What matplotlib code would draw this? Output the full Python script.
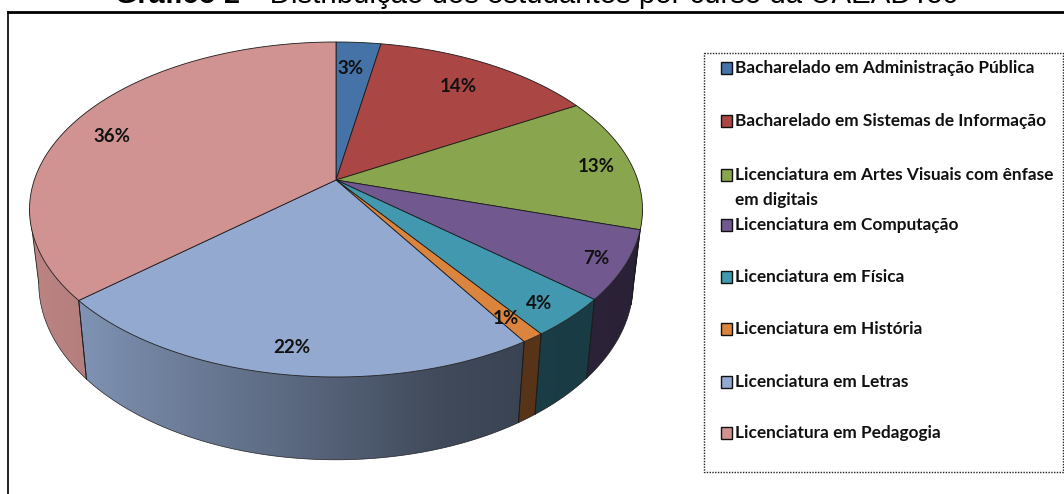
import numpy as np
import matplotlib
matplotlib.use('Agg')
import matplotlib.pyplot as plt
from matplotlib.colors import to_rgb
from matplotlib.patches import Polygon

cursos = ['Bacharelado em Administração Pública',
          'Bacharelado em Sistemas de Informação',
          'Licenciatura em Artes Visuais com ênfase\nem digitais',
          'Licenciatura em Computação',
          'Licenciatura em Física',
          'Licenciatura em História',
          'Licenciatura em Letras',
          'Licenciatura em Pedagogia']
valores = [2.8, 13.9, 13.0, 6.6, 3.8, 1.0, 22.5, 36.4]
rotulos = ['3%', '14%', '13%', '7%', '4%', '1%', '22%', '36%']
cores = ['#4572a7', '#aa4643', '#89a54e', '#71588f', '#4198af', '#db843d', '#93a9cf', '#d19392']

# posicoes em pixels da imagem
rotulo_x = [351, 458, 596, 596, 539, 506, 292, 112]
rotulo_y = [68, 87, 166, 258, 303, 318, 347, 136]
legenda_y = [68, 121, 175, 225, 277, 329, 382, 433]

CX, CY = 336, 180
A, B, K = 301.7, 162.3, 0.176


def topo(t):
    # circulo em perspectiva
    w = 1 + K * np.cos(t)
    return CX + A * np.sin(t) / w, CY - B * np.cos(t) / w


def base(x, y):
    return CX + 0.97 * (x - CX), y + 72 + 0.055 * (y - CY)


def sombra(x):
    return np.interp(x, [30, 90, 130, 290, 440, 520, 650],
                     [0.90, 0.86, 0.80, 0.62, 0.44, 0.40, 0.38])


fig = plt.figure(figsize=(10.64, 4.94), dpi=100)
ax = fig.add_axes([0, 0, 1, 1])
ax.axis('off')

# moldura
ax.plot([8, 8], [12, 494], color='#111111', lw=1.3, zorder=1)
ax.plot([8, 1064], [12.5, 12.5], color='black', lw=2, zorder=1)

# titulo cortado no topo
ax.text(115, 3, 'Gráfico 2', family='Liberation Sans', weight='bold', fontsize=20.8,
        va='baseline', ha='left', clip_on=False)
ax.text(252, 3, '- Distribuição dos estudantes por curso da UAEADTec',
        family='Liberation Sans', fontsize=21.2, va='baseline', ha='left', clip_on=False)

limites = 2 * np.pi * np.cumsum([0] + valores) / sum(valores)
t_dir = np.arccos(-K)
t_esq = 2 * np.pi - t_dir

# lateral com degrade horizontal
for i, cor in enumerate(cores):
    ini, fim = max(limites[i], t_dir), min(limites[i + 1], t_esq)
    if ini >= fim:
        continue
    ts = np.linspace(ini, fim, 200)
    xs, ys = topo(ts)
    xs2, ys2 = base(xs, ys)
    contorno = np.c_[np.r_[xs, xs2[::-1]], np.r_[ys, ys2[::-1]]]
    x0, x1 = np.floor(contorno[:, 0].min()) - 1, np.ceil(contorno[:, 0].max()) + 1
    y0, y1 = contorno[:, 1].min() - 1, contorno[:, 1].max() + 1
    colunas = np.arange(x0, x1) + 0.5
    img = np.clip(np.outer(sombra(colunas), to_rgb(cor)), 0, 1)[np.newaxis, :, :]
    im = ax.imshow(img, extent=(x0, x1, y1, y0), aspect='auto', zorder=2, interpolation='bilinear')
    im.set_clip_path(Polygon(contorno, closed=True, transform=ax.transData))
    ax.plot(xs2, ys2, color='#222222', lw=0.5, zorder=3)
    for t in (ini, fim):
        xa, ya = topo(t)
        xb, yb = base(xa, ya)
        ax.plot([xa, xb], [ya, yb], color='#1a1a1a', lw=0.6, zorder=3)

# face de cima
for i, cor in enumerate(cores):
    ts = np.linspace(limites[i], limites[i + 1], 120)
    xs, ys = topo(ts)
    ax.fill(np.r_[CX, xs], np.r_[CY, ys], facecolor=cor, edgecolor='#1a1a1a', lw=0.6, zorder=4)

for x, y, r in zip(rotulo_x, rotulo_y, rotulos):
    ax.text(x, y, r, family='Lato', weight='bold', fontsize=13.5, ha='center', va='center',
            color='#111111', zorder=5)

# legenda
ax.plot([703.5, 1063, 1063, 703.5, 703.5], [53.5, 53.5, 472, 472, 53.5], color='#222222',
        lw=1, ls=(0, (1, 1)), zorder=1)
for nome, y, cor in zip(cursos, legenda_y, cores):
    ax.fill([720.5, 731.5, 731.5, 720.5], [y - 6, y - 6, y + 6, y + 6], facecolor=cor,
            edgecolor='#111111', lw=1, zorder=3)
    linhas = nome.split('\n')
    for j, linha in enumerate(linhas):
        ax.text(735, y + j * 24.5, linha, family='Lato', weight='bold', fontsize=12.4,
                ha='left', va='center', color='#111111', zorder=3)

ax.set_xlim(0, 1064)
ax.set_ylim(494, 0)
fig.savefig('out.png', dpi=100)
